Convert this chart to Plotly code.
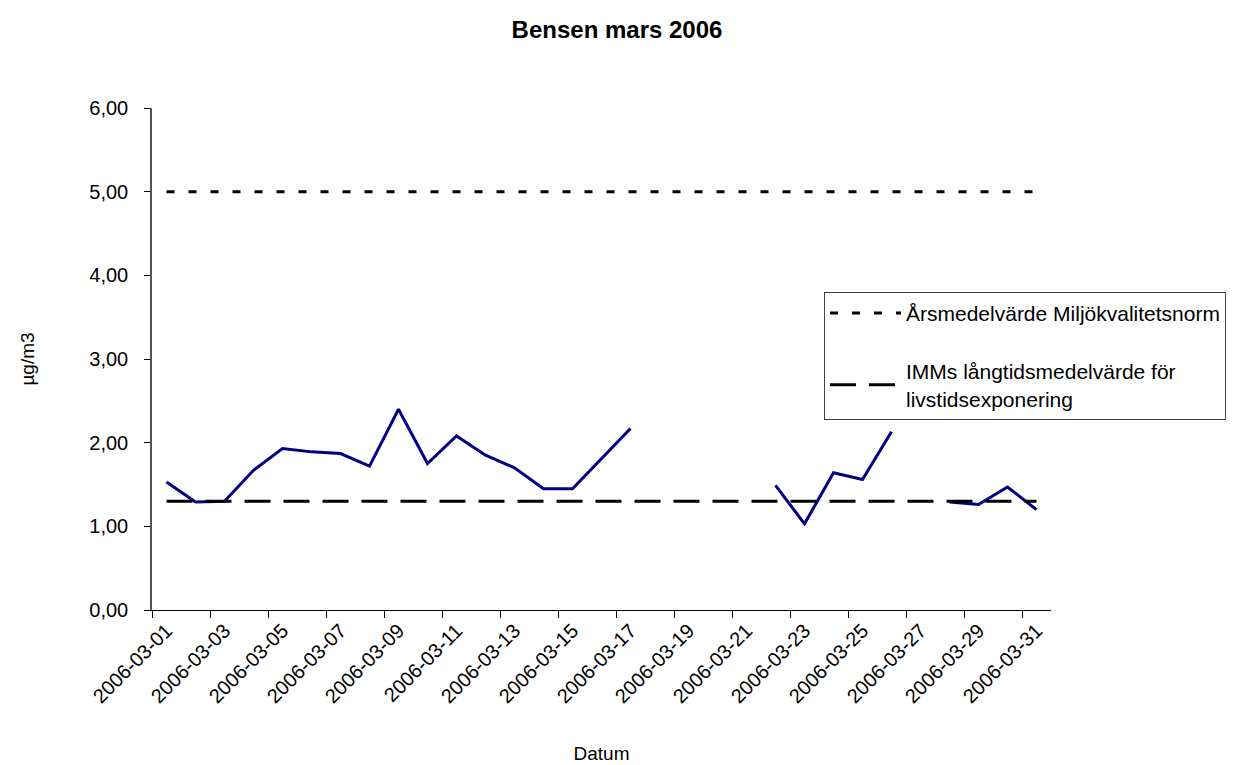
import plotly.graph_objects as go

dates = [f"2006-03-{d:02d}" for d in range(1, 32)]
bensen = [1.53, 1.29, 1.30, 1.67, 1.93, 1.89, 1.87, 1.72, 2.40, 1.75,
          2.08, 1.85, 1.70, 1.45, 1.45, 1.81, 2.17, None, None, None,
          None, 1.49, 1.03, 1.64, 1.56, 2.13, None, 1.29, 1.26, 1.47, 1.20]
norm_value = 5.0
imm_value = 1.3
norm_name = "Årsmedelvärde Miljökvalitetsnorm"
imm_name = "IMMs långtidsmedelvärde för<br>livstidsexponering"
y_ticks = [0, 1, 2, 3, 4, 5, 6]
y_ticktext = ["0,00", "1,00", "2,00", "3,00", "4,00", "5,00", "6,00"]

FONT = "Liberation Sans, Arial, sans-serif"

fig = go.Figure()
fig.add_trace(go.Scatter(
    x=dates, y=bensen, mode="lines", name="Bensen",
    line=dict(color="#000080", width=3), connectgaps=False, showlegend=False,
))
fig.add_trace(go.Scatter(
    x=dates, y=[norm_value] * len(dates), mode="lines", name=norm_name,
    line=dict(color="black", width=3, dash="8px,14px"), legendgroup="a",
))
fig.add_trace(go.Scatter(
    x=dates, y=[imm_value] * len(dates), mode="lines", name=imm_name,
    line=dict(color="black", width=3, dash="26px,13px"), legendgroup="b",
))

fig.update_layout(
    width=1239, height=765,
    margin=dict(l=144, r=196, t=100, b=163),
    paper_bgcolor="white", plot_bgcolor="white",
    font=dict(family=FONT, size=20, color="black"),
    title=dict(text="<b>Bensen mars 2006</b>", x=609 / 1239, xref="container", xanchor="center",
               y=1 - 22 / 765, yref="container", yanchor="middle",
               font=dict(size=24, family=FONT, color="black")),
    legend=dict(x=0.7475, y=0.634, xanchor="left", yanchor="top",
                bordercolor="#404040", borderwidth=1, bgcolor="white",
                font=dict(size=21, family=FONT), itemwidth=71,
                tracegroupgap=28, traceorder="grouped"),
    xaxis=dict(type="category", range=[-0.5, 30.5], tickangle=-45,
               tickson="boundaries", dtick=2, ticks="outside", ticklen=7,
               tickcolor="black", showline=True, linecolor="black", linewidth=1,
               showgrid=False, zeroline=False, tickfont=dict(size=20),
               title=dict(text="Datum", font=dict(size=19), standoff=40)),
    yaxis=dict(range=[0, 6], tickvals=y_ticks, ticktext=y_ticktext,
               ticks="outside", ticklen=6, tickcolor="black",
               showline=True, linecolor="#555555", linewidth=1.5,
               showgrid=False, zeroline=False, ticklabelstandoff=12,
               tickfont=dict(size=20),
               title=dict(text="µg/m3", font=dict(size=19), standoff=50)),
)

fig.write_html("out.html")
